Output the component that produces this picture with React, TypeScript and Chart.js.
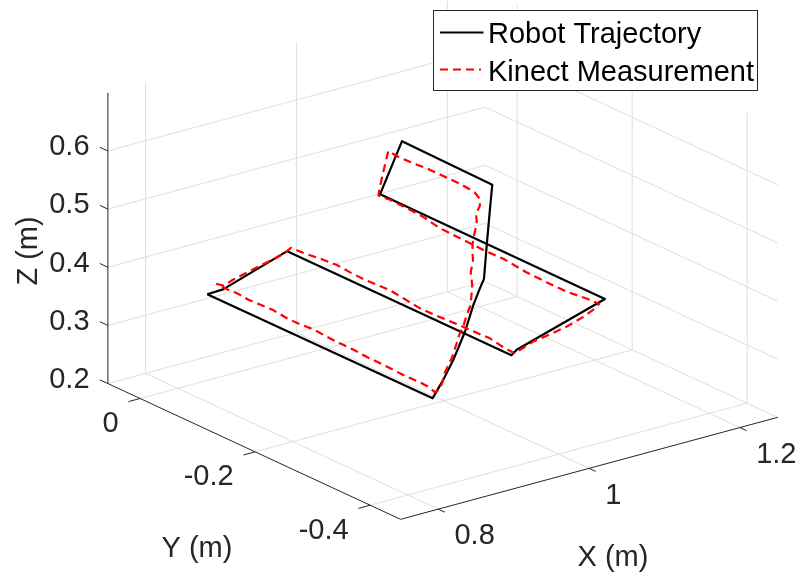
import React, { useEffect, useRef } from 'react';
import { Chart, registerables } from 'chart.js';

Chart.register(...registerables);

const WIDTH = 800;
const HEIGHT = 578;

// Axis limits (m)
const xLimits = [0.75, 1.25];
const yLimits = [-0.453, 0.056];
const zLimits = [0.2, 0.7];

// Tick positions and labels
const xTickValues = [0.8, 1.0, 1.2];
const yTickValues = [-0.4, -0.2, 0];
const zTickValues = [0.2, 0.3, 0.4, 0.5, 0.6];
const xTickLabels = ['0.8', '1', '1.2'];
const yTickLabels = ['-0.4', '-0.2', '0'];
const zTickLabels = ['0.2', '0.3', '0.4', '0.5', '0.6'];

// Commanded end-effector path (m)
const robotX = [0.839, 0.860, 0.945, 0.945, 0.952, 1.069, 1.069, 1.098, 1.098, 1.095, 1.091, 1.087, 1.068, 1.034, 0.981, 0.922, 0.879, 0.839, 0.839];
const robotY = [0.000, 0.000, 0.000, -0.390, -0.390, -0.390, 0.001, 0.001, -0.156, -0.156, -0.156, -0.156, -0.174, -0.207, -0.262, -0.319, -0.358, -0.392, 0.000];
const robotZ = [0.348, 0.349, 0.385, 0.385, 0.392, 0.438, 0.439, 0.520, 0.517, 0.477, 0.421, 0.359, 0.358, 0.356, 0.354, 0.352, 0.351, 0.349, 0.348];

// Path measured by the Kinect sensor (m)
const kinectX = [
  0.851, 0.861, 0.873, 0.892, 0.911, 0.929, 0.942, 0.950, 0.950, 0.950,
  0.950, 0.950, 0.950, 0.950, 0.950, 0.950, 0.950, 0.950, 0.950, 0.950,
  0.950, 0.950, 0.950, 0.956, 0.976, 1.000, 1.020, 1.042, 1.057, 1.063,
  1.063, 1.063, 1.063, 1.063, 1.063, 1.063, 1.063, 1.063, 1.063, 1.063,
  1.063, 1.063, 1.063, 1.065, 1.068, 1.072, 1.076, 1.076, 1.076, 1.076,
  1.076, 1.076, 1.076, 1.076, 1.083, 1.083, 1.078, 1.079, 1.077, 1.074,
  1.073, 1.074, 1.071, 1.073, 1.051, 1.036, 1.017, 0.996, 0.978, 0.957,
  0.926, 0.893, 0.873, 0.858, 0.851, 0.851, 0.851, 0.851, 0.851, 0.851,
  0.851, 0.851, 0.851, 0.851, 0.851, 0.851, 0.851, 0.851, 0.851, 0.851,
  0.851, 0.851, 0.851,
];
const kinectY = [
  0.000, 0.000, 0.000, 0.000, 0.000, 0.000, 0.000, 0.000, -0.021, -0.054,
  -0.080, -0.103, -0.125, -0.151, -0.172, -0.195, -0.223, -0.247, -0.285, -0.324,
  -0.346, -0.372, -0.388, -0.388, -0.388, -0.388, -0.388, -0.388, -0.388, -0.388,
  -0.367, -0.332, -0.297, -0.261, -0.221, -0.193, -0.163, -0.134, -0.111, -0.082,
  -0.053, -0.024, -0.004, -0.004, -0.004, -0.004, -0.004, -0.021, -0.048, -0.074,
  -0.103, -0.129, -0.146, -0.154, -0.154, -0.154, -0.154, -0.154, -0.154, -0.154,
  -0.154, -0.154, -0.154, -0.154, -0.181, -0.199, -0.218, -0.240, -0.257, -0.279,
  -0.311, -0.342, -0.364, -0.378, -0.380, -0.369, -0.354, -0.331, -0.308, -0.285,
  -0.262, -0.238, -0.215, -0.192, -0.169, -0.146, -0.122, -0.099, -0.076, -0.055,
  -0.038, -0.019, 0.000,
];
const kinectZ = [
  0.362, 0.355, 0.361, 0.367, 0.373, 0.378, 0.383, 0.389, 0.390, 0.394,
  0.396, 0.394, 0.393, 0.394, 0.395, 0.392, 0.388, 0.388, 0.390, 0.391,
  0.392, 0.387, 0.386, 0.388, 0.397, 0.402, 0.407, 0.416, 0.425, 0.431,
  0.430, 0.426, 0.426, 0.427, 0.432, 0.431, 0.432, 0.433, 0.434, 0.440,
  0.442, 0.443, 0.441, 0.456, 0.472, 0.493, 0.513, 0.511, 0.512, 0.514,
  0.514, 0.514, 0.512, 0.511, 0.497, 0.485, 0.473, 0.459, 0.446, 0.430,
  0.413, 0.395, 0.375, 0.352, 0.350, 0.350, 0.350, 0.350, 0.350, 0.350,
  0.350, 0.350, 0.350, 0.350, 0.350, 0.354, 0.355, 0.354, 0.355, 0.356,
  0.356, 0.358, 0.358, 0.359, 0.361, 0.359, 0.359, 0.362, 0.361, 0.360,
  0.362, 0.361, 0.362,
];

const seriesNames = ['Robot Trajectory', 'Kinect Measurement'];
const axisTitles = ['X (m)', 'Y (m)', 'Z (m)'];

// Orthographic camera: screen offset (px) per metre along each axis,
// anchored at world point (0.8, -0.4, 0.2).
const VIEW = {
  anchor: [0.8, -0.4, 0.2],
  anchorPx: [407.8, 495],
  ex: [754.25, -204],
  ey: [-575, -266.75],
  ez: [0, -581.5],
};

type Pt = { x: number; y: number };
type V3 = [number, number, number];

function project(p: V3): Pt {
  const dx = p[0] - VIEW.anchor[0];
  const dy = p[1] - VIEW.anchor[1];
  const dz = p[2] - VIEW.anchor[2];
  return {
    x: VIEW.anchorPx[0] + VIEW.ex[0] * dx + VIEW.ey[0] * dy + VIEW.ez[0] * dz,
    y: VIEW.anchorPx[1] + VIEW.ex[1] * dx + VIEW.ey[1] * dy + VIEW.ez[1] * dz,
  };
}

const path = (xs: number[], ys: number[], zs: number[]) =>
  xs.map((x, i) => project([x, ys[i], zs[i]]));

// tick mark length, in metres along the perpendicular axis
const TICK_LEN = { x: 0.0115, y: 0.0155, z: 0.014 };

function gridSegments(): [V3, V3][] {
  const [x0, x1] = xLimits;
  const [y0, y1] = yLimits;
  const [z0, z1] = zLimits;
  const segs: [V3, V3][] = [];
  xTickValues.forEach((x) => {
    segs.push([[x, y0, z0], [x, y1, z0]]);
    segs.push([[x, y1, z0], [x, y1, z1]]);
  });
  yTickValues.forEach((y) => {
    segs.push([[x0, y, z0], [x1, y, z0]]);
    segs.push([[x1, y, z0], [x1, y, z1]]);
  });
  zTickValues.forEach((z) => {
    segs.push([[x0, y1, z], [x1, y1, z]]);
    segs.push([[x1, y0, z], [x1, y1, z]]);
  });
  return segs;
}

function axisSegments(): [V3, V3][] {
  const [x0, x1] = xLimits;
  const [y0, y1] = yLimits;
  const [z0, z1] = zLimits;
  const segs: [V3, V3][] = [
    [[x0, y1, z0], [x0, y1, z1]],
    [[x0, y0, z0], [x0, y1, z0]],
    [[x0, y0, z0], [x1, y0, z0]],
  ];
  xTickValues.forEach((x) => segs.push([[x, y0, z0], [x, y0 - TICK_LEN.x, z0]]));
  yTickValues.forEach((y) => segs.push([[x0, y, z0], [x0 - TICK_LEN.y, y, z0]]));
  zTickValues.forEach((z) => segs.push([[x0, y1, z], [x0, y1 + TICK_LEN.z, z]]));
  return segs;
}

const FONT = '"Liberation Sans", Arial, Helvetica, sans-serif';
const AXIS_COLOR = '#262626';
const GRID_COLOR = '#dfdfdf';
const DASH = [8, 5];
const LINE_W = 2.2;

const annotationPlugin = {
  id: 'axesText',
  beforeDraw(chart: any) {
    const { ctx } = chart;
    ctx.save();
    ctx.fillStyle = '#ffffff';
    ctx.fillRect(0, 0, chart.width, chart.height);
    ctx.restore();
  },
  afterDraw(chart: any) {
    const { ctx } = chart;
    const sx = chart.scales.x;
    const sy = chart.scales.y;
    const px = (p: V3) => {
      const q = project(p);
      return { x: sx.getPixelForValue(q.x), y: sy.getPixelForValue(q.y) };
    };
    const [x0] = xLimits;
    const [y0, y1] = yLimits;
    const [z0] = zLimits;

    ctx.save();
    ctx.fillStyle = AXIS_COLOR;
    ctx.font = `29px ${FONT}`;
    ctx.textBaseline = 'middle';

    ctx.textAlign = 'right';
    zTickValues.forEach((z, i) => {
      const e = px([x0, y1 + TICK_LEN.z, z]);
      ctx.fillText(zTickLabels[i], e.x - 10.3, e.y);
    });
    yTickValues.forEach((y, i) => {
      const e = px([x0 - TICK_LEN.y, y, z0]);
      ctx.fillText(yTickLabels[i], e.x - 9.8, e.y + 22.3);
    });
    ctx.textAlign = 'left';
    xTickValues.forEach((x, i) => {
      const e = px([x, y0 - TICK_LEN.x, z0]);
      ctx.fillText(xTickLabels[i], e.x + 9.6, e.y + 24.2);
    });

    // axis titles
    ctx.textAlign = 'center';
    ctx.fillText(axisTitles[0], 613, 557.5);
    ctx.fillText(axisTitles[1], 197, 549);
    ctx.save();
    ctx.translate(29, 251);
    ctx.rotate(-Math.PI / 2);
    ctx.fillText(axisTitles[2], 0, 0);
    ctx.restore();

    // legend
    const bx = 433.5, by = 10.5, bw = 324, bh = 80;
    ctx.fillStyle = '#ffffff';
    ctx.fillRect(bx, by, bw, bh);
    ctx.strokeStyle = AXIS_COLOR;
    ctx.lineWidth = 1;
    ctx.strokeRect(bx, by, bw, bh);

    ctx.lineWidth = LINE_W;
    ctx.strokeStyle = '#000000';
    ctx.beginPath();
    ctx.moveTo(440, 32.5);
    ctx.lineTo(483.5, 32.5);
    ctx.stroke();

    ctx.strokeStyle = '#ff0000';
    ctx.setLineDash(DASH);
    ctx.beginPath();
    ctx.moveTo(440, 69.5);
    ctx.lineTo(481, 69.5);
    ctx.stroke();
    ctx.setLineDash([]);

    ctx.fillStyle = '#000000';
    ctx.textAlign = 'left';
    ctx.textBaseline = 'alphabetic';
    ctx.fillText(seriesNames[0], 488, 43.3);
    ctx.fillText(seriesNames[1], 488, 81);
    ctx.restore();
  },
};

export default function App() {
  const canvasRef = useRef<HTMLCanvasElement | null>(null);

  useEffect(() => {
    const canvas = canvasRef.current;
    if (!canvas) return;

    const segDataset = (seg: [V3, V3], color: string, order: number) => ({
      data: [project(seg[0]), project(seg[1])],
      showLine: true,
      borderColor: color,
      borderWidth: 1,
      pointRadius: 0,
      order,
    });

    const datasets: any[] = [
      {
        label: seriesNames[1],
        data: path(kinectX, kinectY, kinectZ),
        showLine: true,
        borderColor: '#ff0000',
        borderWidth: LINE_W,
        borderDash: DASH,
        borderJoinStyle: 'round',
        pointRadius: 0,
        tension: 0,
        order: 0,
      },
      {
        label: seriesNames[0],
        data: path(robotX, robotY, robotZ),
        showLine: true,
        borderColor: '#000000',
        borderWidth: LINE_W,
        borderJoinStyle: 'round',
        pointRadius: 0,
        tension: 0,
        order: 1,
      },
      ...axisSegments().map((s) => segDataset(s, AXIS_COLOR, 2)),
      ...gridSegments().map((s) => segDataset(s, GRID_COLOR, 3)),
    ];

    const chart = new Chart(canvas, {
      type: 'scatter',
      data: { datasets },
      options: {
        animation: false,
        responsive: false,
        maintainAspectRatio: false,
        events: [],
        layout: { padding: 0 },
        plugins: { legend: { display: false }, tooltip: { enabled: false } },
        scales: {
          x: { type: 'linear', min: 0, max: WIDTH, display: false },
          y: { type: 'linear', min: 0, max: HEIGHT, reverse: true, display: false },
        },
      },
      plugins: [annotationPlugin],
    } as any);

    return () => chart.destroy();
  }, []);

  return (
    <div style={{ position: 'fixed', left: 0, top: 0, width: WIDTH, height: HEIGHT, background: '#fff' }}>
      <canvas ref={canvasRef} width={WIDTH} height={HEIGHT} style={{ display: 'block' }} />
    </div>
  );
}
